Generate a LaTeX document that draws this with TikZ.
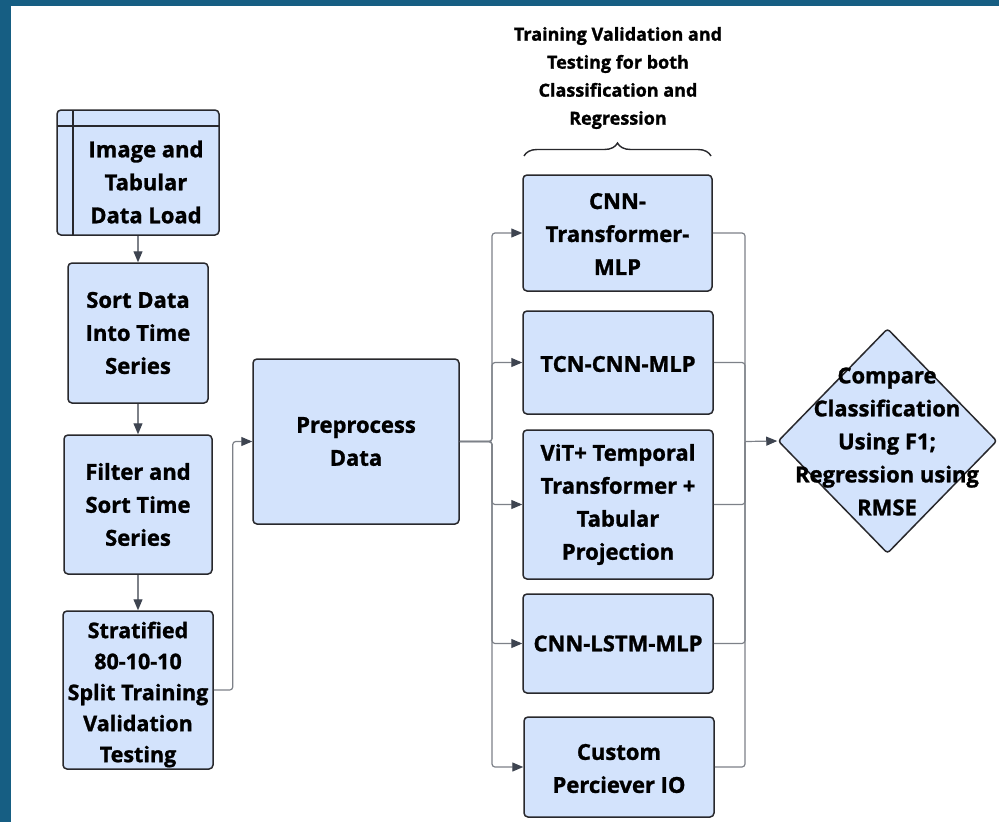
\documentclass[tikz,border=0pt]{standalone}
\usepackage{fontspec}
\setmainfont{Open Sans}[BoldFeatures={FakeBold=1.2}]
\usetikzlibrary{shapes.geometric,arrows.meta,decorations.pathreplacing}
\definecolor{boxblue}{RGB}{211,227,252}
\definecolor{edgedark}{RGB}{40,40,44}
\definecolor{connc}{RGB}{125,129,136}
\definecolor{tipc}{RGB}{62,68,80}
\definecolor{frameblue}{RGB}{22,94,131}
\begin{document}
\begin{tikzpicture}[x=1pt,y=-1pt,
 box/.style={draw=edgedark,line width=1.5pt,fill=boxblue,rounded corners=4pt,inner sep=0pt},
 lbl/.style={font=\bfseries\fontsize{22}{33}\selectfont,align=center,inner sep=0pt},
 conn/.style={draw=connc,line width=1.2pt,rounded corners=3pt,-{Triangle[length=11pt,width=9pt,color=tipc]}},
 plainline/.style={draw=connc,line width=1.2pt,rounded corners=3pt}]
\fill[white] (0,0) rectangle (999,822);
\fill[frameblue] (0,0) rectangle (999,6);
\fill[frameblue] (0,0) rectangle (11,822);
\useasboundingbox (0,0) rectangle (999,822);

% left column
\node[box,minimum width=162pt,minimum height=125pt] (load) at (138,172.5) {};
\draw[edgedark,line width=1.5pt] (73,110) -- (73,235);
\draw[edgedark,line width=1.5pt] (57,126) -- (219,126);
\node[lbl] (loadtxt) at (146,182) {Image and\\Tabular\\Data Load};

\node[box,minimum width=140pt,minimum height=140pt] (sort) at (138,333) {};
\node[lbl] (sorttxt) at (138,333) {Sort Data\\Into Time\\Series};

\node[box,minimum width=148pt,minimum height=139pt] (filter) at (138,504.5) {};
\node[lbl] (filtertxt) at (138,504.5) {Filter and\\Sort Time\\Series};

\node[box,minimum width=150pt,minimum height=158pt] (split) at (138,690) {};
\node[lbl,font=\bfseries\fontsize{21.5}{31}\selectfont] (splittxt) at (138,694.5) {Stratified\\80-10-10\\Split Training\\Validation\\Testing};

\node[box,minimum width=206pt,minimum height=165pt] (pre) at (356,441.5) {};
\node[lbl] (pretxt) at (356,441.5) {Preprocess\\Data};

% models
\node[box,minimum width=189pt,minimum height=116pt] (m1) at (617.5,233) {};
\node[lbl] (m1txt) at (617.5,234) {CNN-\\Transformer-\\MLP};
\node[box,minimum width=190pt,minimum height=103pt] (m2) at (618,362.5) {};
\node[lbl] (m2txt) at (618,364) {TCN-CNN-MLP};
\node[box,minimum width=190pt,minimum height=149pt] (m3) at (618,504.5) {};
\node[lbl] (m3txt) at (618,504.5) {ViT+ Temporal\\Transformer +\\Tabular\\Projection};
\node[box,minimum width=190pt,minimum height=99pt] (m4) at (618,643.5) {};
\node[lbl] (m4txt) at (618,643.5) {CNN-LSTM-MLP};
\node[box,minimum width=190pt,minimum height=100pt] (m5) at (619,767) {};
\node[lbl] (m5txt) at (619,768.5) {Custom\\Perciever IO};

% compare diamond
\node[diamond,draw=edgedark,line width=1.5pt,fill=boxblue,minimum width=219pt,minimum height=225pt,inner sep=0pt,rounded corners=3pt] (cmp) at (887.5,441) {};
\node[lbl] (cmptxt) at (887,441.5) {Compare\\Classification\\Using F1;\\Regression using\\RMSE};

% title and brace
\node[font=\bfseries\fontsize{18}{28}\selectfont,align=center,inner sep=0pt] (title) at (618,78) {Training Validation and\\Testing for both\\Classification and\\Regression};
\draw[edgedark,line width=1.4pt,decorate,decoration={brace,amplitude=13pt}] (524,156) -- (711,156);

% connectors left column
\draw[conn] (load.south) -- (sort.north);
\draw[conn] (sort.south) -- (filter.north);
\draw[conn] (filter.south) -- (split.north);
\draw[conn] (split.east) -- ++(19,0) |- (pre.west);

% fan out
\coordinate (busL) at (492,441.5);
\foreach \m in {m1,m2,m3,m4,m5}{
  \draw[conn] (pre.east) -- (busL) |- (\m.west);
}
% fan in
\coordinate (busR) at (745,441.5);
\foreach \m in {m1,m2,m3,m4,m5}{
  \draw[plainline] (\m.east) -| (busR);
}
\draw[conn] (busR) -- (cmp.west);
\end{tikzpicture}
\end{document}
